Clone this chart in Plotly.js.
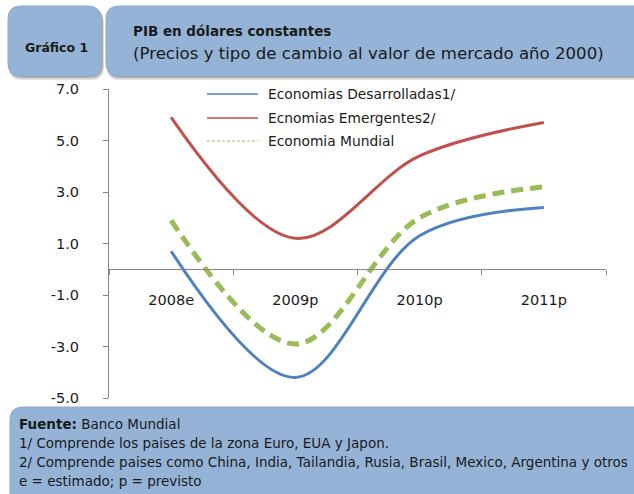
<!DOCTYPE html>
<html>
<head>
<meta charset="utf-8">
<script src="https://cdn.plot.ly/plotly-3.0.1.min.js"></script>
<style>html,body{margin:0;padding:0;background:#fff;}#chart{width:634px;height:494px;}</style>
</head>
<body>
<div id="chart"></div>
<script>
var categories = ["2008e", "2009p", "2010p", "2011p"];
var desarrolladas = [0.7, -4.2, 1.3, 2.4];
var emergentes = [5.9, 1.2, 4.4, 5.7];
var mundial = [1.9, -2.9, 2.0, 3.2];
var seriesNames = ["Economias Desarrolladas1/", "Ecnomias Emergentes2/", "Economia Mundial"];
var yTicks = [-5, -3, -1, 1, 3, 5, 7];
var notes = ["<b>Fuente:</b> Banco Mundial",
  "1/ Comprende los paises de la zona Euro, EUA y Japon.",
  "2/ Comprende paises como China, India, Tailandia, Rusia, Brasil, Mexico, Argentina y otros",
  "e = estimado; p = previsto"];

var FONT = "'DejaVu Sans', sans-serif";
var L = 109, R = 606, T = 89, B = 398;
var W = R - L, H = B - T;
function px(x) { return (x - L) / W; }
function py(y) { return (B - y) / H; }
function pt(x, y) { return px(x).toFixed(5) + "," + py(y).toFixed(5); }
function roundRect(x0, y0, x1, y1, r) {
  return "M" + pt(x0 + r, y0) + " L" + pt(x1 - r, y0) + " Q" + pt(x1, y0) + " " + pt(x1, y0 + r) +
    " L" + pt(x1, y1 - r) + " Q" + pt(x1, y1) + " " + pt(x1 - r, y1) +
    " L" + pt(x0 + r, y1) + " Q" + pt(x0, y1) + " " + pt(x0, y1 - r) +
    " L" + pt(x0, y0 + r) + " Q" + pt(x0, y0) + " " + pt(x0 + r, y0) + " Z";
}
var boxFill = "#95B3D7";
var colors = ["#4F81BD", "#C0504D", "#9BBB59"];

var traces = [
  {x: categories, y: desarrolladas, name: seriesNames[0], mode: "lines",
   line: {color: colors[0], width: 3, shape: "spline", smoothing: 1}},
  {x: categories, y: emergentes, name: seriesNames[1], mode: "lines",
   line: {color: colors[1], width: 3, shape: "spline", smoothing: 1}},
  {x: categories, y: mundial, name: seriesNames[2], mode: "lines",
   line: {color: colors[2], width: 5, shape: "spline", smoothing: 1, dash: "12px,7px"}}
];

var shapes = [];
function addBox(x0, y0, x1, y1, r) {
  shapes.push({type: "path", xref: "paper", yref: "paper", path: roundRect(x0 + 1, y0 + 4, x1 + 3, y1 + 4, r),
    fillcolor: "rgba(120,120,120,0.25)", line: {width: 0}, layer: "below"});
  shapes.push({type: "path", xref: "paper", yref: "paper", path: roundRect(x0 + 1, y0 + 2, x1 + 2, y1 + 2, r),
    fillcolor: "rgba(90,90,90,0.35)", line: {width: 0}, layer: "below"});
  shapes.push({type: "path", xref: "paper", yref: "paper", path: roundRect(x0, y0, x1, y1, r),
    fillcolor: boxFill, line: {color: "#8DAAD0", width: 1}, layer: "below"});
}
addBox(8, 6, 101, 76, 13);
addBox(106, 6, 660, 76, 13);
addBox(10, 407, 660, 520, 13);

var legendY = [94, 118, 141];
var annotations = [];
for (var i = 0; i < 3; i++) {
  shapes.push({type: "line", xref: "paper", yref: "paper", x0: px(207), x1: px(258), y0: py(legendY[i]), y1: py(legendY[i]),
    line: {color: colors[i], width: i === 2 ? 1.2 : 1.3, dash: i === 2 ? "3px,2px" : "solid"}});
  annotations.push({xref: "paper", yref: "paper", x: px(266), y: py(legendY[i]), xanchor: "left", yanchor: "middle",
    text: seriesNames[i], showarrow: false, font: {family: FONT, size: 13.8, color: "#1a1a1a"}});
}
annotations.push({xref: "paper", yref: "paper", x: px(56), y: py(47), xanchor: "center", yanchor: "middle",
  text: "<b>Gráfico 1</b>", showarrow: false, font: {family: FONT, size: 12.5, color: "#1a1a1a"}});
annotations.push({xref: "paper", yref: "paper", x: px(131), y: py(31), xanchor: "left", yanchor: "middle",
  text: "<b>PIB en dólares constantes</b>", showarrow: false, font: {family: FONT, size: 13.5, color: "#1a1a1a"}});
annotations.push({xref: "paper", yref: "paper", x: px(131), y: py(54), xanchor: "left", yanchor: "middle",
  text: "(Precios y tipo de cambio al valor de mercado año 2000)", showarrow: false, font: {family: FONT, size: 16.6, color: "#1a1a1a"}});
var noteY = [424, 443, 462, 481];
for (var j = 0; j < notes.length; j++) {
  annotations.push({xref: "paper", yref: "paper", x: px(17), y: py(noteY[j]), xanchor: "left", yanchor: "middle",
    text: notes[j], showarrow: false, font: {family: FONT, size: 13.5, color: "#1a1a1a"}});
}

var layout = {
  width: 634, height: 494,
  margin: {l: L, r: 634 - R, t: T, b: 494 - B, pad: 0},
  paper_bgcolor: "#ffffff", plot_bgcolor: "#ffffff",
  showlegend: false,
  xaxis: {type: "category", range: [-0.5, 3.5], anchor: "free", position: 5 / 12,
    showline: true, linecolor: "#868686", linewidth: 1, showgrid: false, zeroline: false,
    ticks: "outside", tickson: "boundaries", ticklen: 5, tickcolor: "#868686",
    ticklabelstandoff: 17,
    tickfont: {family: FONT, size: 14.5, color: "#1a1a1a"}},
  yaxis: {range: [-5, 7], tickvals: yTicks, ticktext: yTicks.map(function (v) { return v.toFixed(1); }),
    showline: true, linecolor: "#868686", linewidth: 1,
    showgrid: false, zeroline: false, ticks: "outside", ticklen: 5, tickcolor: "#868686",
    ticklabelstandoff: 21,
    tickfont: {family: FONT, size: 14.5, color: "#1a1a1a"}},
  shapes: shapes,
  annotations: annotations
};
Plotly.newPlot("chart", traces, layout, {staticPlot: true});
</script>
</body>
</html>
